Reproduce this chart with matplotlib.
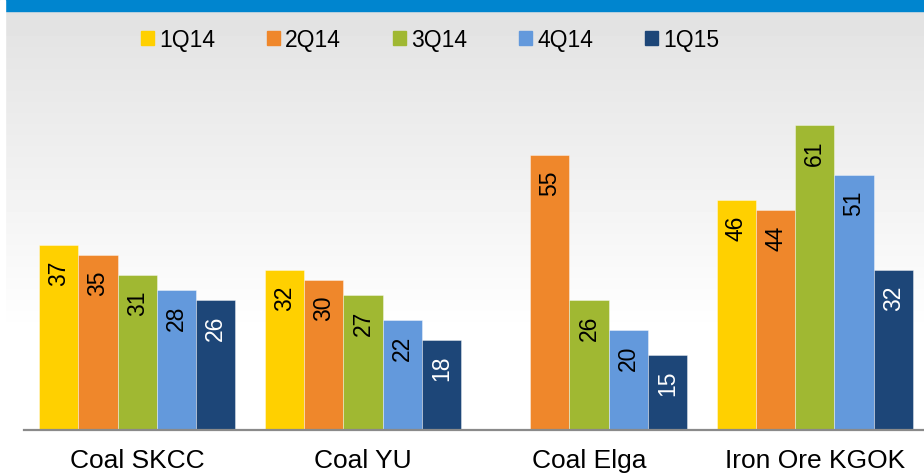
import numpy as np
import matplotlib
matplotlib.use("Agg")
import matplotlib.pyplot as plt
from matplotlib.patches import Patch, Rectangle

plt.rcParams['font.family'] = ['Liberation Sans', 'DejaVu Sans']

categories = ["Coal SKCC", "Coal YU", "Coal Elga", "Iron Ore KGOK"]
quarters = ["1Q14", "2Q14", "3Q14", "4Q14", "1Q15"]
q1_14 = [37, 32, np.nan, 46]
q2_14 = [35, 30, 55, 44]
q3_14 = [31, 27, 26, 61]
q4_14 = [28, 22, 20, 51]
q1_15 = [26, 18, 15, 32]

series = [q1_14, q2_14, q3_14, q4_14, q1_15]
colors = ["#FFD000", "#EF872B", "#A0B832", "#6399DC", "#1D4678"]
label_colors = ["black", "black", "black", "black", "white"]

W, H = 924, 475
fig = plt.figure(figsize=(W / 100, H / 100), dpi=100)

# background: grey fading to white, blue band on top
bg = fig.add_axes([0, 0, 1, 1], zorder=-1)
rows = np.arange(H)
shade = np.clip((rows - 12) / 320.0, 0, 1)
vals = 0.886 + (1 - 0.886) * shade
img = np.repeat(vals[:, None], 2, axis=1)
bg.imshow(img, cmap="gray", vmin=0, vmax=1, aspect="auto",
          extent=[0, W, H, 0])
bg.add_patch(Rectangle((0, 0), W, 11, color="#0085CF"))
bg.add_patch(Rectangle((0, 0), 5, H, color="white"))
bg.set_xlim(0, W)
bg.set_ylim(H, 0)
bg.axis("off")

ax = fig.add_axes([24 / W, 45 / H, 900 / W, 418 / H])
ax.patch.set_visible(False)

step = 5.75
centers = np.arange(len(categories)) * step
for j, (vals_j, c, lc) in enumerate(zip(series, colors, label_colors)):
    xs = centers + j
    for x, v in zip(xs, vals_j):
        if np.isnan(v):
            continue
        ax.bar(x, v, width=1.0, color=c, edgecolor=(1, 1, 1, 0.45), linewidth=0.6)
        ax.annotate(f"{int(v)}", (x, v), xytext=(0, -11), textcoords="offset points",
                    rotation=90, ha="center", va="top", fontsize=16.5, color=lc)

ax.set_xlim(-0.882, 22.03)
ax.set_ylim(0, 83.6)
ax.set_xticks(centers + 2)
ax.set_xticklabels(categories, fontsize=19)
ax.tick_params(axis="x", length=0, pad=13.5)
ax.set_yticks([])
for s in ["top", "right", "left"]:
    ax.spines[s].set_visible(False)
ax.spines["bottom"].set_color("#8A8A8A")
ax.spines["bottom"].set_linewidth(1.6)

handles = [Patch(color=c, label=q) for c, q in zip(colors, quarters)]
fig.legend(handles=handles, loc="center", ncol=5, frameon=False,
           bbox_to_anchor=(430 / W, 1 - 40 / H), fontsize=16.5,
           handlelength=0.57, handleheight=0.57, handletextpad=0.22,
           columnspacing=2.27)

fig.savefig("out.png", dpi=100)
